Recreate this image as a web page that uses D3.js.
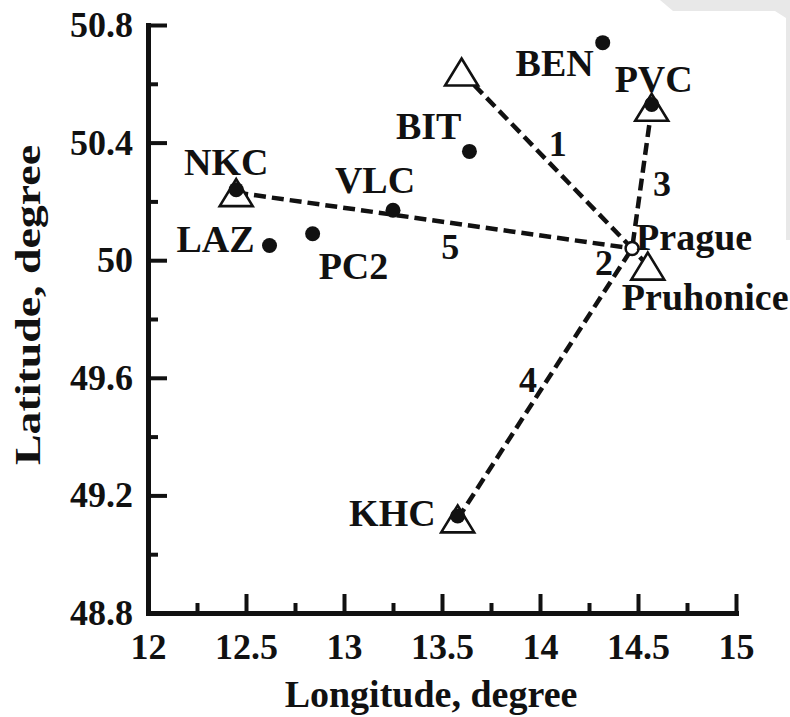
<!DOCTYPE html>
<html>
<head>
<meta charset="utf-8">
<script src="https://cdn.jsdelivr.net/npm/d3@7"></script>
<style>
  body { margin: 0; background: #fff; }
  text { font-family: "Liberation Serif", "Times New Roman", serif; font-weight: bold; fill: #111; }
</style>
</head>
<body>
<svg id="chart" width="790" height="717"></svg>
<script>
// Axis ticks
const lonMajor = [12, 12.5, 13, 13.5, 14, 14.5, 15];
const lonMinor = [12.25, 12.75, 13.25, 13.75, 14.25, 14.75];
const latMajor = [48.8, 49.2, 49.6, 50, 50.4, 50.8];
const latMinor = [49.0, 49.4, 49.8, 50.2, 50.6];
const lonTickLabels = ["12", "12.5", "13", "13.5", "14", "14.5", "15"];
const latTickLabels = ["48.8", "49.2", "49.6", "50", "50.4", "50.8"];

// Measuring stations (filled dots)
const stationNames = ["BEN", "PVC", "BIT", "VLC", "NKC", "LAZ", "PC2", "KHC"];
const stationLon   = [14.32, 14.57, 13.64, 13.25, 12.45, 12.62, 12.84, 13.58];
const stationLat   = [50.74, 50.53, 50.37, 50.17, 50.24, 50.05, 50.09, 49.13];

// Sampling sites (open triangles)
const siteNames = ["S1", "PVC", "NKC", "KHC", "Pruhonice"];
const siteLon   = [13.60, 14.57, 12.45, 13.58, 14.55];
const siteLat   = [50.64, 50.52, 50.23, 49.12, 49.98];

// City centre (open circle)
const cityName = "Prague";
const cityLon = 14.47;
const cityLat = 50.04;

// Transects, each running from a site to Prague
const routeIds  = ["1", "2", "3", "4", "5"];
const routeFrom = ["S1", "Pruhonice", "PVC", "KHC", "NKC"];

// Label placement (pixel offsets from the mark)
const stationLabelLayout = {
  BEN: { dx: -9,  dy: 33, anchor: "end" },
  PVC: { dx: 2,   dy: -12, anchor: "middle" },
  BIT: { dx: -8,  dy: -12, anchor: "end" },
  VLC: { dx: -18, dy: -17, anchor: "middle" },
  NKC: { dx: -10, dy: -15, anchor: "middle" },
  LAZ: { dx: -15, dy: 6,  anchor: "end" },
  PC2: { dx: 6,   dy: 45, anchor: "start" },
  KHC: { dx: -22, dy: 10, anchor: "end" }
};
const cityLabelLayout = { dx: 4, dy: 2, anchor: "start" };
const pruhoniceLabelLayout = { dx: -26, dy: 44, anchor: "start" };
const routeLabelLayout = {
  "1": { dx: 11,  dy: -4 },
  "2": { dx: -36, dy: 18 },
  "3": { dx: 20,  dy: 18 },
  "4": { dx: -17, dy: 8 },
  "5": { dx: 16,  dy: 38 }
};

const svg = d3.select("#chart");

// page-corner shading at the top right
svg.append("polygon")
  .attr("points", "660,0 790,0 790,240 786,240 786,18 775,11 673,11")
  .attr("fill", "#e8e8e8");

const x = d3.scaleLinear().domain([12, 15]).range([148, 736]);
const y = d3.scaleLinear().domain([48.8, 50.8]).range([613, 25]);

// ---- axes ----
function styleAxis(g) {
  g.selectAll(".domain").attr("stroke", "#111").attr("stroke-width", 5).attr("stroke-linecap", "square");
  g.selectAll(".tick line").attr("stroke", "#111").attr("stroke-width", 4);
  g.selectAll(".tick text").attr("font-size", 36).attr("fill", "#111")
    .attr("font-family", "'Liberation Serif','Times New Roman',serif").attr("font-weight", "bold");
}

const gxMinor = svg.append("g").attr("transform", "translate(0,613)")
  .call(d3.axisBottom(x).tickValues(lonMinor).tickSizeInner(-10).tickSizeOuter(0).tickFormat(""));
gxMinor.select(".domain").remove();
styleAxis(gxMinor);

const gyMinor = svg.append("g").attr("transform", "translate(148,0)")
  .call(d3.axisLeft(y).tickValues(latMinor).tickSizeInner(-10).tickSizeOuter(0).tickFormat(""));
gyMinor.select(".domain").remove();
styleAxis(gyMinor);

const gx = svg.append("g").attr("transform", "translate(0,613)")
  .call(d3.axisBottom(x).tickValues(lonMajor).tickSizeInner(-19).tickSizeOuter(0)
    .tickPadding(20).tickFormat((d, i) => lonTickLabels[i]));
styleAxis(gx);

const gy = svg.append("g").attr("transform", "translate(148,0)")
  .call(d3.axisLeft(y).tickValues(latMajor).tickSizeInner(-19).tickSizeOuter(0)
    .tickPadding(15).tickFormat((d, i) => latTickLabels[i]));
styleAxis(gy);

svg.append("text")
  .attr("x", 431).attr("y", 707)
  .attr("text-anchor", "middle").attr("font-size", 38)
  .text("Longitude, degree");

svg.append("text")
  .attr("transform", "translate(40,305) rotate(-90)")
  .attr("text-anchor", "middle").attr("font-size", 35)
  .attr("textLength", 320).attr("lengthAdjust", "spacingAndGlyphs")
  .text("Latitude, degree");

// ---- transects ----
const sites = siteNames.map((n, i) => ({ name: n, lon: siteLon[i], lat: siteLat[i] }));
const siteByName = Object.fromEntries(sites.map(s => [s.name, s]));
const routes = routeIds.map((id, i) => ({ id, from: siteByName[routeFrom[i]] }));

svg.append("g").selectAll("line").data(routes).join("line")
  .attr("x1", d => x(d.from.lon)).attr("y1", d => y(d.from.lat))
  .attr("x2", x(cityLon)).attr("y2", y(cityLat))
  .attr("stroke", "#111").attr("stroke-width", 4.5)
  .attr("stroke-dasharray", "12,6");

svg.append("g").selectAll("text").data(routes).join("text")
  .attr("x", d => (x(d.from.lon) + x(cityLon)) / 2 + routeLabelLayout[d.id].dx)
  .attr("y", d => (y(d.from.lat) + y(cityLat)) / 2 + routeLabelLayout[d.id].dy)
  .attr("text-anchor", "middle").attr("font-size", 36)
  .text(d => d.id);

// ---- sites: open triangles ----
const triW = 33, triH = 27;
svg.append("g").selectAll("path").data(sites).join("path")
  .attr("transform", d => `translate(${x(d.lon)},${y(d.lat)})`)
  .attr("d", `M0,${-triH / 2}L${triW / 2},${triH / 2}L${-triW / 2},${triH / 2}Z`)
  .attr("fill", "#fff").attr("stroke", "#111").attr("stroke-width", 2.6)
  .attr("stroke-linejoin", "miter");

// ---- stations: filled dots ----
const stations = stationNames.map((n, i) => ({ name: n, lon: stationLon[i], lat: stationLat[i] }));
svg.append("g").selectAll("circle").data(stations).join("circle")
  .attr("cx", d => x(d.lon)).attr("cy", d => y(d.lat)).attr("r", 7.5)
  .attr("fill", "#111");

svg.append("g").selectAll("text").data(stations).join("text")
  .attr("x", d => x(d.lon) + stationLabelLayout[d.name].dx)
  .attr("y", d => y(d.lat) + stationLabelLayout[d.name].dy)
  .attr("text-anchor", d => stationLabelLayout[d.name].anchor)
  .attr("font-size", 38)
  .text(d => d.name);

// ---- Prague ----
svg.append("circle")
  .attr("cx", x(cityLon)).attr("cy", y(cityLat)).attr("r", 6.5)
  .attr("fill", "#fff").attr("stroke", "#111").attr("stroke-width", 2.5);

svg.append("text")
  .attr("x", x(cityLon) + cityLabelLayout.dx).attr("y", y(cityLat) + cityLabelLayout.dy)
  .attr("text-anchor", cityLabelLayout.anchor).attr("font-size", 38)
  .text(cityName);

const pru = siteByName["Pruhonice"];
svg.append("text")
  .attr("x", x(pru.lon) + pruhoniceLabelLayout.dx).attr("y", y(pru.lat) + pruhoniceLabelLayout.dy)
  .attr("text-anchor", pruhoniceLabelLayout.anchor).attr("font-size", 38)
  .text("Pruhonice");
</script>
</body>
</html>
